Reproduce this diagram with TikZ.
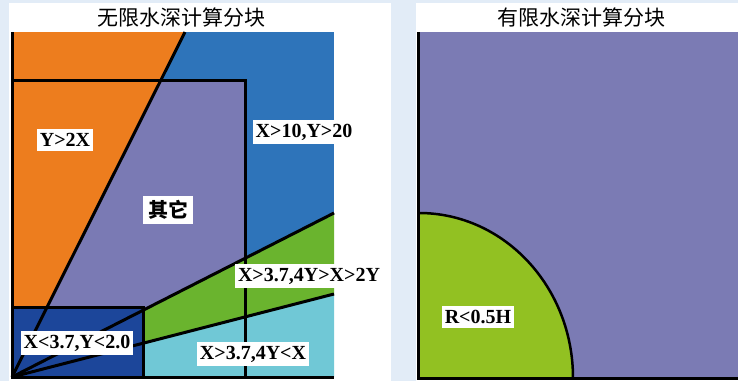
\documentclass[tikz,border=0pt]{standalone}
\usepackage{fontspec}
\setmainfont{Liberation Serif}
\newfontfamily\cjk{Noto Sans CJK SC}
\definecolor{bgc}{RGB}{226,236,247}
\definecolor{cblue}{RGB}{46,116,186}
\definecolor{corange}{RGB}{237,125,30}
\definecolor{cpurple}{RGB}{122,122,180}
\definecolor{cgreen}{RGB}{106,180,46}
\definecolor{ccyan}{RGB}{112,200,214}
\definecolor{cdark}{RGB}{28,70,154}
\definecolor{rpurple}{RGB}{123,123,180}
\definecolor{rgreen}{RGB}{146,193,34}
\tikzset{
  lab/.style={fill=white, inner xsep=3pt, inner ysep=4pt, font=\fontsize{20}{22}\selectfont\bfseries},
  cjklab/.style={fill=white, inner xsep=5pt, inner ysep=4pt, font=\cjk\fontsize{20}{22}\selectfont\bfseries},
  ttl/.style={font=\cjk\fontsize{21}{23}\selectfont},
  edge/.style={line width=3pt, line cap=butt}
}
\begin{document}
\begin{tikzpicture}[x=1pt,y=-1pt]
\fill[bgc] (0,0) rectangle (738,381);
\useasboundingbox (0,0) rectangle (738,381);
\fill[white] (9,3) rectangle (391,381);
\fill[white] (416,3) rectangle (738,381);
% left panel
\coordinate (O) at (12,377);
\coordinate (A) at (185,32);
\coordinate (B) at (334,213);
\coordinate (C) at (334,294);
\fill[cblue] (12,32) rectangle (334,377);
\fill[corange] (O) -- (12,32) -- (A) -- cycle;
\begin{scope}
  \clip (12,80) rectangle (245,377);
  \fill[cpurple] (O) -- (A) -- (334,32) -- (B) -- cycle;
\end{scope}
\fill[cgreen] (O) -- (B) -- (C) -- cycle;
\fill[ccyan] (O) -- (C) -- (334,377) -- cycle;
\fill[cdark] (12,307) rectangle (143,377);
\draw[edge] (O) -- (A);
\draw[edge] (O) -- (B);
\draw[edge] (O) -- (C);
\draw[edge] (12,80) rectangle (245,377);
\draw[edge] (12,307) rectangle (143,377);
\draw[edge] (12,32) -- (O) -- (334,377);
\node[ttl] (t1) at (181,17) {无限水深计算分块};
\node[lab] (l1) at (65,140) {Y>2X};
\node[lab] (l2) at (304,132) {X>10,Y>20};
\node[cjklab] (l3) at (168,210) {其它};
\node[lab] (l4) at (309,276) {X>3.7,4Y>X>2Y};
\node[lab] (l5) at (253,354) {X>3.7,4Y<X};
\node[lab] (l6) at (77,343) {X<3.7,Y<2.0};
% right panel
\fill[rpurple] (419,32) rectangle (738,378);
\fill[rgreen] (419,378) -- (419,213) arc[start angle=-90, end angle=0, x radius=154, y radius=165] -- cycle;
\draw[line width=2.5pt] (419,213) arc[start angle=-90, end angle=0, x radius=154, y radius=165];
\draw[edge] (418.5,32) -- (418.5,378) -- (738,378);
\node[ttl] (t2) at (581,17) {有限水深计算分块};
\node[lab] (r1) at (478,317) {R<0.5H};
\end{tikzpicture}
\end{document}
